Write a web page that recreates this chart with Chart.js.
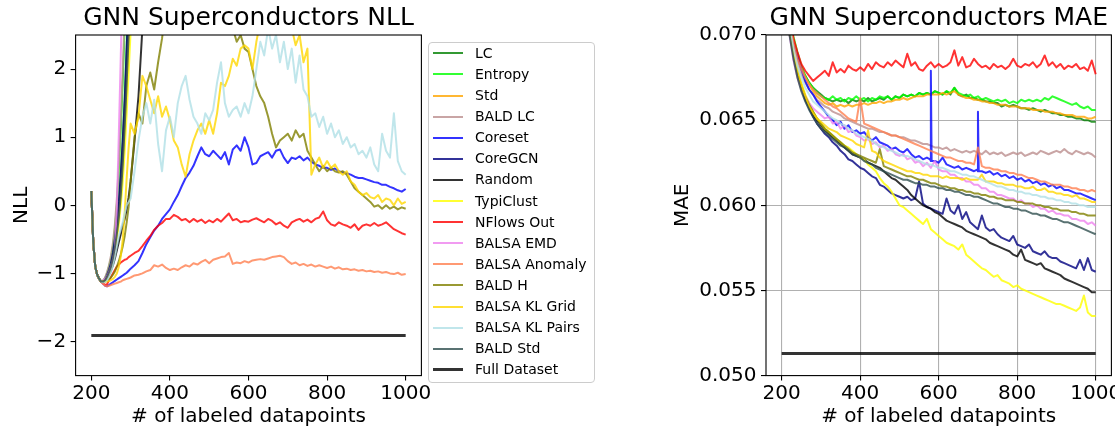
<!DOCTYPE html>
<html><head><meta charset="utf-8">
<script src="https://cdn.jsdelivr.net/npm/chart.js@4"></script>
<style>
html,body{margin:0;padding:0;background:#fff;}
#wrap{position:relative;width:1115px;height:433px;overflow:hidden;background:#fff;}
#c1{position:absolute;left:0;top:0;}
#c2{position:absolute;left:660px;top:0;}
#legend{position:absolute;left:428px;top:42px;width:165px;height:339px;border:1px solid #cccccc;border-radius:4px;background:rgba(255,255,255,0.8);font-family:'DejaVu Sans',sans-serif;font-size:14px;color:#000;}
.row{position:absolute;left:0;height:21px;line-height:21px;white-space:nowrap;width:165px;}
.sw{position:absolute;left:4px;top:9.5px;width:30px;height:2px;}
.lbl{position:absolute;left:46px;top:0;}
</style></head>
<body>
<div id="wrap">
<canvas id="c1" width="440" height="433"></canvas>
<canvas id="c2" width="455" height="433"></canvas>
<div id="legend"></div>
</div>
<script>
// ---------- data ----------
const names = ['LC','Entropy','Std','BALD LC','Coreset','CoreGCN','Random','TypiClust','NFlows Out','BALSA EMD','BALSA Anomaly','BALD H','BALSA KL Grid','BALSA KL Pairs','BALD Std','Full Dataset'];
const colors = ['rgba(0,128,0,0.8)','rgba(0,255,0,0.8)','rgba(255,165,0,0.8)','rgba(188,143,143,0.8)','rgba(0,0,255,0.8)','rgba(0,0,128,0.8)','rgba(0,0,0,0.8)','rgba(255,255,0,0.8)','rgba(255,0,0,0.8)','rgba(238,130,238,0.8)','rgba(255,127,80,0.8)','rgba(128,128,0,0.8)','rgba(255,215,0,0.8)','rgba(176,224,230,0.8)','rgba(47,79,79,0.8)','rgba(0,0,0,0.8)'];

const xTicks = [200,400,600,800,1000];
const nllTicks = [-2,-1,0,1,2];
const maeTicks = [0.050,0.055,0.060,0.065,0.070];

const nllX = [200,205,210,215,220,225,230,235,240,245,250,255,260,265,270,275,280,285,290,295,300,310,320,330,340,350,360,370,380,390,400,410,420,430,440,450,460,470,480,490,500,510,520,530,540,550,560,570,580,590,600,610,620,630,640,650,660,670,680,690,700,710,720,730,740,750,760,770,780,790,800,810,820,830,840,850,860,870,880,890,900,910,920,930,940,950,960,970,980,990,1000];
const fullX = [200,1000];

const nllLC = [0.21,-0.55,-0.9,-1.02,-1.08,-1.12,-1.12,-1.09,-1.03,-0.95,-0.85,-0.7,-0.5,-0.25,0.05,0.45,0.95,1.55,2.3,3.1];
const nllEntropy = [0.21,-0.55,-0.9,-1.02,-1.08,-1.12,-1.11,-1.07,-1.0,-0.9,-0.78,-0.6,-0.35,0.0,0.5,1.1,1.8,2.6,3.4];
const nllStd = [0.21,-0.55,-0.9,-1.02,-1.08,-1.12,-1.12,-1.1,-1.05,-0.98,-0.9,-0.78,-0.62,-0.4,-0.12,0.22,0.65,1.15,1.75,2.4,3.1];
const nllBaldLC = [0.21,-0.55,-0.9,-1.02,-1.08,-1.12,-1.11,-1.06,-0.98,-0.88,-0.74,-0.55,-0.28,0.1,0.6,1.25,2.0,2.8];
const nllCoreset = [0.21,-0.55,-0.9,-1.02,-1.08,-1.12,-1.15,-1.18,-1.19,-1.17,-1.15,-1.13,-1.11,-1.09,-1.07,-1.05,-1.03,-1.01,-0.99,-0.96,
 -0.93,-0.88,-0.82,-0.7,-0.57,-0.47,-0.37,-0.3,-0.2,-0.13,
 -0.06,0.05,0.15,0.28,0.4,0.48,0.58,0.72,0.85,0.75,
 0.72,0.8,0.74,0.68,0.78,0.6,0.82,0.88,0.8,1.0,
 0.85,0.6,0.62,0.72,0.75,0.78,0.7,0.8,0.82,0.7,
 0.62,0.7,0.68,0.72,0.66,0.7,0.64,0.6,0.58,0.55,
 0.55,0.52,0.54,0.5,0.48,0.47,0.45,0.42,0.4,0.4,
 0.38,0.36,0.34,0.33,0.3,0.3,0.27,0.25,0.22,0.2,
 0.24];
const nllCoreGCN = [0.21,-0.55,-0.9,-1.02,-1.08,-1.12,-1.12,-1.09,-1.03,-0.95,-0.85,-0.7,-0.5,-0.25,0.05,0.45,0.95,1.55,2.3,3.1];
const nllRandom = [0.21,-0.55,-0.9,-1.02,-1.08,-1.12,-1.12,-1.1,-1.07,-1.02,-0.96,-0.88,-0.78,-0.66,-0.54,-0.42,-0.3,-0.2,-0.06,0.12,0.35,0.95,1.6,2.6,3.6];
const nllTypiClust = [0.21,-0.55,-0.9,-1.02,-1.08,-1.12,-1.12,-1.1,-1.06,-1.0,-0.92,-0.82,-0.68,-0.5,-0.28,0.0,0.35,0.8,1.35,1.95,2.55,3.6];
const nllNFlows = [0.21,-0.55,-0.9,-1.02,-1.08,-1.12,-1.15,-1.17,-1.16,-1.1,-1.05,-1.0,-0.95,-0.9,-0.87,-0.84,-0.82,-0.8,-0.79,-0.76,
 -0.74,-0.7,-0.67,-0.6,-0.52,-0.45,-0.36,-0.3,-0.26,-0.2,
 -0.2,-0.14,-0.17,-0.22,-0.2,-0.25,-0.2,-0.24,-0.21,-0.26,
 -0.22,-0.25,-0.2,-0.24,-0.18,-0.12,-0.22,-0.2,-0.25,-0.23,
 -0.24,-0.21,-0.19,-0.22,-0.25,-0.2,-0.23,-0.28,-0.25,-0.3,
 -0.33,-0.25,-0.22,-0.2,-0.24,-0.21,-0.25,-0.2,-0.18,-0.09,
 -0.22,-0.28,-0.3,-0.25,-0.28,-0.3,-0.33,-0.28,-0.36,-0.3,
 -0.28,-0.3,-0.26,-0.3,-0.28,-0.25,-0.3,-0.35,-0.38,-0.41,
 -0.43];
const nllEMD = [0.21,-0.55,-0.9,-1.02,-1.08,-1.12,-1.1,-1.08,-1.04,-0.98,-0.9,-0.8,-0.65,-0.05,1.05,2.2,3.4];
const nllAnomaly = [0.21,-0.55,-0.9,-1.02,-1.08,-1.12,-1.15,-1.18,-1.19,-1.18,-1.17,-1.16,-1.15,-1.14,-1.13,-1.12,-1.1,-1.09,-1.08,-1.07,
 -1.06,-1.03,-1.02,-1.0,-0.97,-0.95,-0.88,-0.9,-0.87,-0.92,
 -0.95,-0.93,-0.95,-0.91,-0.88,-0.9,-0.85,-0.87,-0.83,-0.8,
 -0.85,-0.8,-0.78,-0.76,-0.75,-0.7,-0.86,-0.84,-0.85,-0.82,
 -0.84,-0.81,-0.8,-0.79,-0.8,-0.78,-0.76,-0.75,-0.74,-0.76,
 -0.82,-0.86,-0.84,-0.88,-0.86,-0.89,-0.87,-0.9,-0.88,-0.9,
 -0.92,-0.9,-0.93,-0.91,-0.94,-0.93,-0.95,-0.94,-0.96,-0.95,
 -0.97,-0.96,-0.98,-0.97,-0.99,-0.98,-1.0,-1.01,-0.99,-1.02,
 -1.01];
const nllBaldH = [0.21,-0.55,-0.9,-1.02,-1.08,-1.12,-1.12,-1.12,-1.11,-1.09,-1.06,-1.02,-0.97,-0.9,-0.82,-0.72,-0.6,-0.45,-0.25,-0.02,
 0.35,1.0,1.35,1.2,1.75,1.95,1.7,2.1,2.45,2.9,
 3.3,null,null,null,null,null,null,null,null,null,
 null,null,null,null,null,3.0,2.6,2.4,2.5,2.3,
 2.25,2.0,1.75,1.6,1.5,1.3,1.05,0.85,0.95,1.0,
 1.05,0.95,1.1,1.0,1.05,0.8,0.7,0.6,0.5,0.58,
 0.5,0.55,0.5,0.48,0.5,0.45,0.35,0.25,0.2,0.15,
 0.1,0.05,-0.02,0.0,-0.05,0.0,-0.05,-0.02,-0.06,-0.03,
 -0.05];
const nllKLGrid = [0.21,-0.55,-0.9,-1.02,-1.08,-1.12,-1.12,-1.12,-1.12,-1.11,-1.1,-1.08,-1.05,-1.0,-0.9,-0.75,-0.5,-0.1,0.4,0.85,
 1.2,1.05,1.3,1.9,1.75,1.55,1.35,1.6,1.3,1.45,
 1.25,0.95,0.85,0.6,0.42,0.75,0.95,1.1,1.2,1.05,
 1.25,1.05,1.35,1.8,1.75,1.9,2.15,2.05,2.3,2.35,
 2.3,2.0,2.4,2.7,2.9,3.0,2.8,3.0,2.9,3.1,
 2.8,2.6,2.35,2.5,2.1,2.3,0.45,0.6,0.7,0.55,
 0.65,0.55,0.6,0.5,0.45,0.5,0.35,0.3,0.2,0.15,
 0.18,0.12,0.1,0.15,0.05,0.1,0.08,0.0,0.1,0.02,
 0.05];
const nllKLPairs = [0.21,-0.55,-0.9,-1.02,-1.08,-1.12,-1.13,-1.12,-1.1,-1.05,-0.98,-0.88,-0.75,-0.6,-0.45,-0.35,-0.25,-0.12,0.0,0.05,
 0.1,0.5,0.95,1.3,1.5,1.2,1.55,0.9,0.5,1.1,
 1.3,1.0,1.5,1.75,1.9,1.55,1.3,1.2,1.05,1.35,
 1.25,1.4,1.8,2.1,1.5,1.3,1.4,1.45,1.3,1.5,
 1.35,1.6,2.0,2.4,2.2,2.6,2.3,2.5,2.1,2.4,
 2.0,2.3,1.8,2.2,1.7,1.6,1.3,1.35,1.15,1.3,
 1.05,1.2,1.0,1.1,0.9,1.0,0.85,0.9,0.75,0.8,
 0.7,0.85,0.6,0.5,1.05,0.8,0.7,1.35,0.65,0.5,
 0.45];
const nllBaldStd = [0.21,-0.55,-0.9,-1.02,-1.08,-1.12,-1.12,-1.1,-1.05,-0.98,-0.9,-0.78,-0.62,-0.42,-0.18,0.15,0.6,1.15,1.8,2.5,3.2];
const nllFull = [-1.91,-1.91];

const maeX = [200,210,220,230,240,250,260,270,280,290,300,310,320,330,340,350,360,370,380,390,400,410,420,430,440,450,460,470,480,490,500,510,520,530,540,550,560,570,580,590,600,610,620,630,640,650,660,670,680,690,700,710,720,730,740,750,760,770,780,790,800,810,820,830,840,850,860,870,880,890,900,910,920,930,940,950,960,970,980,990,1000];

const maeLC = [0.0760,0.0730,0.0710,0.0697,0.0688,0.0681,0.0676,0.0672,0.0669,0.0667,
 0.0665,0.0663,0.0662,0.0661,0.0662,0.0661,0.0662,0.0660,0.0662,0.0661,
 0.0662,0.0661,0.0663,0.0661,0.0662,0.0663,0.0662,0.0664,0.0662,0.0664,
 0.0663,0.0665,0.0664,0.0665,0.0664,0.0666,0.0665,0.0666,0.0665,0.0667,
 0.0666,0.0665,0.0667,0.0665,0.0669,0.0665,0.0664,0.0665,0.0663,0.0663,
 0.0662,0.0662,0.0661,0.0661,0.0660,0.0660,0.0658,0.0659,0.0658,0.0659,
 0.0658,0.0657,0.0657,0.0656,0.0657,0.0656,0.0655,0.0656,0.0655,0.0654,
 0.0654,0.0653,0.0653,0.0652,0.0652,0.0651,0.0651,0.0650,0.0650,0.0649,
 0.0649];
const maeEntropy = [0.0760,0.0730,0.0711,0.0699,0.0690,0.0682,0.0676,0.0672,0.0669,0.0666,
 0.0664,0.0663,0.0662,0.0664,0.0662,0.0663,0.0661,0.0663,0.0662,0.0664,
 0.0662,0.0663,0.0661,0.0663,0.0662,0.0664,0.0663,0.0664,0.0662,0.0664,
 0.0663,0.0665,0.0664,0.0665,0.0664,0.0666,0.0665,0.0666,0.0665,0.0667,
 0.0666,0.0665,0.0667,0.0666,0.0669,0.0666,0.0665,0.0664,0.0665,0.0663,
 0.0664,0.0662,0.0663,0.0662,0.0661,0.0662,0.0661,0.0662,0.0660,0.0661,
 0.0660,0.0662,0.0661,0.0662,0.0661,0.0662,0.0661,0.0663,0.0662,0.0664,
 0.0663,0.0662,0.0661,0.0660,0.0659,0.0660,0.0658,0.0657,0.0658,0.0656,
 0.0656];
const maeStd = [0.0760,0.0730,0.0710,0.0697,0.0688,0.0681,0.0675,0.0671,0.0667,0.0664,
 0.0662,0.0660,0.0659,0.0660,0.0658,0.0659,0.0658,0.0659,0.0658,0.0659,
 0.0659,0.0660,0.0659,0.0660,0.0660,0.0661,0.0660,0.0661,0.0661,0.0662,
 0.0662,0.0663,0.0662,0.0663,0.0664,0.0664,0.0664,0.0665,0.0665,0.0665,
 0.0665,0.0666,0.0665,0.0666,0.0667,0.0665,0.0664,0.0663,0.0663,0.0662,
 0.0662,0.0661,0.0661,0.0660,0.0660,0.0659,0.0659,0.0659,0.0658,0.0658,
 0.0658,0.0657,0.0657,0.0657,0.0656,0.0656,0.0656,0.0655,0.0655,0.0655,
 0.0654,0.0654,0.0653,0.0653,0.0653,0.0652,0.0652,0.0652,0.0651,0.0651,
 0.0652];
const maeBaldLC = [0.0760,0.0730,0.0708,0.0694,0.0684,0.0677,0.0672,0.0668,0.0665,0.0662,
 0.0660,0.0658,0.0657,0.0655,0.0654,0.0653,0.0651,0.0650,0.0649,0.0648,
 0.0647,0.0646,0.0645,0.0645,0.0644,0.0643,0.0643,0.0642,0.0641,0.0641,
 0.0640,0.0640,0.0639,0.0638,0.0638,0.0637,0.0636,0.0636,0.0635,0.0634,
 0.0634,0.0633,0.0634,0.0632,0.0633,0.0632,0.0631,0.0632,0.0631,0.0632,
 0.0631,0.0630,0.0632,0.0630,0.0631,0.0630,0.0631,0.0629,0.0630,0.0631,
 0.0630,0.0631,0.0629,0.0630,0.0631,0.0630,0.0632,0.0631,0.0630,0.0631,
 0.0632,0.0631,0.0633,0.0631,0.0630,0.0632,0.0631,0.0630,0.0631,0.0630,
 0.0628];
const maeCoreset = [0.0760,0.0728,0.0706,0.0695,0.0688,0.0680,0.0673,0.0668,0.0665,0.0661,
 0.0658,0.0655,0.0652,0.0650,0.0647,0.0649,0.0645,0.0647,0.0643,0.0644,
 0.0642,0.0643,0.0640,0.0638,0.0640,0.0637,0.0636,0.0635,0.0633,0.0634,
 0.0632,0.0631,0.0633,0.0630,0.0628,0.0629,0.0627,0.0628,0.0626,0.0626,
 0.0625,0.0628,0.0624,0.0623,0.0622,0.0623,0.0621,0.0622,0.0621,0.0620,
 0.0620,0.0620,0.0619,0.0620,0.0618,0.0619,0.0617,0.0618,0.0616,0.0617,
 0.0615,0.0616,0.0614,0.0615,0.0613,0.0614,0.0612,0.0613,0.0611,0.0612,
 0.0610,0.0611,0.0609,0.0609,0.0608,0.0607,0.0607,0.0606,0.0605,0.0604,
 0.0603];
const coresetSpikeX = [578,580,582,698,700,702];
const coresetSpikeY = [0.0627,0.0679,0.0626,0.0621,0.0655,0.0620];
const maeCoreGCN = [0.0760,0.0725,0.0702,0.0688,0.0677,0.0669,0.0662,0.0657,0.0652,0.0648,
 0.0645,0.0642,0.0640,0.0637,0.0635,0.0632,0.0630,0.0627,0.0626,0.0624,
 0.0622,0.0621,0.0619,0.0617,0.0616,0.0612,0.0611,0.0609,0.0607,0.0606,
 0.0605,0.0604,0.0605,0.0603,0.0604,0.0614,0.0601,0.0599,0.0598,0.0597,
 0.0596,0.0595,0.0604,0.0597,0.0595,0.0600,0.0592,0.0596,0.0590,0.0588,
 0.0586,0.0594,0.0587,0.0585,0.0586,0.0583,0.0581,0.0580,0.0579,0.0582,
 0.0577,0.0576,0.0575,0.0577,0.0573,0.0572,0.0571,0.0573,0.0570,0.0569,
 0.0569,0.0567,0.0566,0.0565,0.0564,0.0563,0.0568,0.0562,0.0569,0.0562,
 0.0561];
const maeRandom = [0.0760,0.0725,0.0702,0.0688,0.0677,0.0669,0.0663,0.0658,0.0653,0.0650,
 0.0647,0.0644,0.0642,0.0640,0.0638,0.0636,0.0634,0.0632,0.0630,0.0629,
 0.0628,0.0627,0.0625,0.0624,0.0623,0.0622,0.0620,0.0618,0.0616,0.0615,
 0.0613,0.0611,0.0609,0.0606,0.0604,0.0602,0.0600,0.0599,0.0598,0.0596,
 0.0595,0.0593,0.0591,0.0590,0.0589,0.0588,0.0587,0.0585,0.0584,0.0583,
 0.0582,0.0581,0.0580,0.0578,0.0577,0.0576,0.0575,0.0574,0.0573,0.0571,
 0.0570,0.0574,0.0568,0.0567,0.0566,0.0565,0.0566,0.0563,0.0562,0.0561,
 0.0560,0.0559,0.0557,0.0556,0.0555,0.0554,0.0553,0.0552,0.0551,0.0549,
 0.0549];
const maeTypiClust = [0.0760,0.0725,0.0703,0.0690,0.0680,0.0672,0.0665,0.0660,0.0655,0.0651,
 0.0648,0.0645,0.0643,0.0641,0.0639,0.0637,0.0635,0.0634,0.0632,0.0630,
 0.0628,0.0627,0.0624,0.0622,0.0620,0.0616,0.0613,0.0611,0.0608,0.0604,
 0.0600,0.0599,0.0597,0.0595,0.0593,0.0591,0.0589,0.0592,0.0586,0.0584,
 0.0582,0.0580,0.0578,0.0577,0.0576,0.0574,0.0577,0.0571,0.0569,0.0567,
 0.0565,0.0563,0.0562,0.0560,0.0558,0.0559,0.0556,0.0555,0.0554,0.0552,
 0.0553,0.0551,0.0550,0.0549,0.0548,0.0547,0.0546,0.0545,0.0544,0.0543,
 0.0542,0.0542,0.0541,0.0540,0.0539,0.0538,0.0540,0.0547,0.0537,0.0535,
 0.0535];
const maeNFlows = [0.0760,0.0735,0.0712,0.0698,0.0690,0.0683,0.0679,0.0676,0.0673,0.0675,
 0.0677,0.0679,0.0676,0.0684,0.0678,0.0680,0.0678,0.0682,0.0680,0.0679,
 0.0681,0.0679,0.0683,0.0680,0.0684,0.0682,0.0681,0.0684,0.0682,0.0685,
 0.0683,0.0681,0.0689,0.0682,0.0684,0.0680,0.0679,0.0682,0.0684,0.0681,
 0.0683,0.0681,0.0682,0.0684,0.0691,0.0682,0.0687,0.0681,0.0682,0.0686,
 0.0683,0.0681,0.0682,0.0680,0.0683,0.0681,0.0682,0.0680,0.0682,0.0686,
 0.0682,0.0681,0.0683,0.0682,0.0684,0.0681,0.0683,0.0688,0.0682,0.0684,
 0.0681,0.0683,0.0680,0.0682,0.0681,0.0683,0.0680,0.0681,0.0679,0.0685,
 0.0677];
const maeEMD = [0.0760,0.0725,0.0700,0.0685,0.0675,0.0668,0.0664,0.0660,0.0657,0.0655,
 0.0653,0.0651,0.0652,0.0648,0.0649,0.0645,0.0647,0.0643,0.0644,0.0641,
 0.0640,0.0638,0.0639,0.0636,0.0637,0.0634,0.0635,0.0632,0.0633,0.0630,
 0.0629,0.0630,0.0627,0.0628,0.0625,0.0626,0.0623,0.0625,0.0622,0.0626,
 0.0621,0.0620,0.0620,0.0618,0.0618,0.0616,0.0616,0.0614,0.0614,0.0612,
 0.0612,0.0610,0.0610,0.0608,0.0608,0.0606,0.0606,0.0605,0.0604,0.0604,
 0.0602,0.0603,0.0601,0.0601,0.0599,0.0600,0.0598,0.0598,0.0596,0.0597,
 0.0595,0.0595,0.0594,0.0594,0.0592,0.0592,0.0591,0.0591,0.0589,0.0590,
 0.0588];
const maeAnomaly = [0.0760,0.0730,0.0708,0.0695,0.0686,0.0680,0.0675,0.0671,0.0668,0.0666,
 0.0664,0.0662,0.0660,0.0658,0.0657,0.0655,0.0653,0.0651,0.0650,0.0649,
 0.0663,0.0648,0.0647,0.0646,0.0645,0.0644,0.0643,0.0642,0.0641,0.0641,
 0.0640,0.0639,0.0638,0.0637,0.0636,0.0635,0.0634,0.0633,0.0632,0.0631,
 0.0630,0.0629,0.0628,0.0628,0.0627,0.0626,0.0626,0.0625,0.0625,0.0624,
 0.0634,0.0623,0.0622,0.0622,0.0621,0.0621,0.0620,0.0620,0.0619,0.0619,
 0.0618,0.0618,0.0617,0.0616,0.0616,0.0615,0.0614,0.0614,0.0613,0.0612,
 0.0612,0.0612,0.0611,0.0611,0.0610,0.0610,0.0609,0.0609,0.0608,0.0609,
 0.0608];
const maeBaldH = [0.0760,0.0726,0.0703,0.0689,0.0678,0.0670,0.0664,0.0659,0.0655,0.0651,
 0.0648,0.0645,0.0643,0.0641,0.0639,0.0637,0.0635,0.0633,0.0631,0.0630,
 0.0629,0.0628,0.0627,0.0626,0.0625,0.0633,0.0623,0.0622,0.0621,0.0620,
 0.0619,0.0618,0.0617,0.0617,0.0616,0.0615,0.0615,0.0614,0.0613,0.0613,
 0.0612,0.0611,0.0611,0.0610,0.0610,0.0609,0.0609,0.0608,0.0608,0.0607,
 0.0607,0.0606,0.0606,0.0605,0.0605,0.0604,0.0604,0.0603,0.0603,0.0603,
 0.0602,0.0602,0.0601,0.0601,0.0601,0.0600,0.0600,0.0599,0.0599,0.0598,
 0.0598,0.0597,0.0597,0.0597,0.0596,0.0596,0.0595,0.0595,0.0594,0.0594,
 0.0594];
const maeKLGrid = [0.0760,0.0725,0.0703,0.0690,0.0680,0.0671,0.0664,0.0658,0.0654,0.0651,
 0.0649,0.0647,0.0645,0.0644,0.0643,0.0641,0.0640,0.0639,0.0638,0.0636,
 0.0635,0.0634,0.0644,0.0632,0.0631,0.0628,0.0626,0.0625,0.0624,0.0623,
 0.0622,0.0621,0.0620,0.0620,0.0619,0.0619,0.0618,0.0618,0.0617,0.0617,
 0.0617,0.0616,0.0617,0.0616,0.0616,0.0616,0.0615,0.0616,0.0615,0.0615,
 0.0615,0.0618,0.0614,0.0614,0.0614,0.0613,0.0613,0.0612,0.0612,0.0612,
 0.0611,0.0611,0.0610,0.0610,0.0611,0.0609,0.0609,0.0610,0.0608,0.0608,
 0.0607,0.0607,0.0606,0.0606,0.0605,0.0606,0.0604,0.0604,0.0603,0.0602,
 0.0602];
const maeKLPairs = [0.0760,0.0726,0.0705,0.0692,0.0682,0.0675,0.0669,0.0665,0.0661,0.0659,
 0.0657,0.0655,0.0653,0.0651,0.0650,0.0648,0.0647,0.0645,0.0644,0.0642,
 0.0641,0.0640,0.0639,0.0638,0.0636,0.0635,0.0634,0.0633,0.0632,0.0631,
 0.0630,0.0629,0.0629,0.0628,0.0627,0.0626,0.0625,0.0624,0.0624,0.0623,
 0.0622,0.0622,0.0621,0.0620,0.0620,0.0619,0.0618,0.0618,0.0617,0.0617,
 0.0616,0.0615,0.0614,0.0613,0.0612,0.0611,0.0611,0.0610,0.0609,0.0609,
 0.0608,0.0608,0.0607,0.0607,0.0606,0.0606,0.0605,0.0605,0.0604,0.0604,
 0.0603,0.0603,0.0602,0.0602,0.0601,0.0601,0.0600,0.0600,0.0599,0.0599,
 0.0599];
const maeBaldStd = [0.0760,0.0724,0.0700,0.0686,0.0675,0.0667,0.0661,0.0656,0.0652,0.0648,
 0.0645,0.0643,0.0641,0.0639,0.0637,0.0635,0.0634,0.0632,0.0630,0.0629,
 0.0628,0.0626,0.0625,0.0624,0.0622,0.0621,0.0620,0.0619,0.0618,0.0617,
 0.0616,0.0615,0.0615,0.0614,0.0613,0.0613,0.0612,0.0612,0.0611,0.0611,
 0.0610,0.0610,0.0609,0.0609,0.0608,0.0608,0.0607,0.0606,0.0606,0.0605,
 0.0605,0.0604,0.0603,0.0602,0.0601,0.0601,0.0600,0.0599,0.0599,0.0598,
 0.0598,0.0597,0.0597,0.0596,0.0595,0.0595,0.0594,0.0594,0.0593,0.0592,
 0.0592,0.0591,0.0590,0.0590,0.0589,0.0588,0.0587,0.0586,0.0585,0.0584,
 0.0583];
const maeFull = [0.0513,0.0513];

// ---------- build ----------
Chart.defaults.font.family = "'DejaVu Sans', sans-serif";
Chart.defaults.color = '#000';

function pts(xs, ys){ const p=[]; for(let i=0;i<ys.length;i++) p.push({x:xs[i], y:ys[i]}); return p; }

const nllSeries = [
 pts(nllX,nllLC), pts(nllX,nllEntropy), pts(nllX,nllStd), pts(nllX,nllBaldLC), pts(nllX,nllCoreset),
 pts(nllX,nllCoreGCN), pts(nllX,nllRandom), pts(nllX,nllTypiClust), pts(nllX,nllNFlows), pts(nllX,nllEMD),
 pts(nllX,nllAnomaly), pts(nllX,nllBaldH), pts(nllX,nllKLGrid), pts(nllX,nllKLPairs), pts(nllX,nllBaldStd), pts(fullX,nllFull)];
const coresetPts = pts(maeX,maeCoreset).concat(pts(coresetSpikeX,coresetSpikeY)).sort((a,b)=>a.x-b.x);
const maeSeries = [
 pts(maeX,maeLC), pts(maeX,maeEntropy), pts(maeX,maeStd), pts(maeX,maeBaldLC), coresetPts,
 pts(maeX,maeCoreGCN), pts(maeX,maeRandom), pts(maeX,maeTypiClust), pts(maeX,maeNFlows), pts(maeX,maeEMD),
 pts(maeX,maeAnomaly), pts(maeX,maeBaldH), pts(maeX,maeKLGrid), pts(maeX,maeKLPairs), pts(maeX,maeBaldStd), pts(fullX,maeFull)];

function datasets(series){
  return series.map((d,i)=>({
    label: names[i], data: d, borderColor: colors[i], backgroundColor: colors[i],
    borderWidth: i===names.length-1 ? 3 : 2, pointRadius: 0, tension: 0, fill: false,
    spanGaps: false, borderJoinStyle: 'round', order: names.length-1-i, clip: 0
  }));
}

const framePlugin = { id:'frame', afterDraw(chart){
  const {ctx, chartArea:a} = chart; ctx.save(); ctx.strokeStyle='#000'; ctx.lineWidth=1.1;
  ctx.strokeRect(a.left, a.top, a.right-a.left, a.bottom-a.top); ctx.restore(); } };

function xScale(gridOn){
  return { type:'linear', min:160, max:1040,
    afterBuildTicks: s => { s.ticks = xTicks.map(v=>({value:v})); },
    afterFit: s => { s.height = 57.4; s.paddingLeft = 0; s.paddingRight = 0; },
    ticks: { font:{size:20}, color:'#000', padding:1, maxRotation:0, autoSkip:false, callback: v => String(v) },
    grid: { drawOnChartArea:gridOn, color:'#b0b0b0', lineWidth:1.1, tickColor:'#000', tickLength:5, tickWidth:1.1 },
    border: { display:false },
    title: { display:true, text:'# of labeled datapoints', font:{size:20}, color:'#000', padding:{top:0,bottom:4} } };
}
function yScale(gridOn, lo, hi, tickVals, fmt, label, w, tpad){
  return { type:'linear', min:lo, max:hi,
    afterBuildTicks: s => { s.ticks = tickVals.map(v=>({value:v})); },
    afterFit: s => { s.width = w; s.paddingTop = 0; s.paddingBottom = 0; },
    ticks: { font:{size:20}, color:'#000', padding:4.5, autoSkip:false, callback: fmt },
    grid: { drawOnChartArea:gridOn, color:'#b0b0b0', lineWidth:1.1, tickColor:'#000', tickLength:5, tickWidth:1.1 },
    border: { display:false },
    title: { display:true, text:label, font:{size:20}, color:'#000', padding:{top:tpad,bottom:0} } };
}
function titleOpt(t){
  return { display:true, text:t, fullSize:false, color:'#000', font:{size:25, weight:'normal', lineHeight:1}, padding:{top:5.5,bottom:4.5} };
}

new Chart(document.getElementById('c1'), {
  type:'line', data:{ datasets: datasets(nllSeries) },
  options:{ responsive:false, animation:false, devicePixelRatio:1,
    layout:{ padding:{ left:0, top:0, right:18.6, bottom:0 } },
    scales:{ x: xScale(false), y: yScale(false, -2.5, 2.5, nllTicks, v => v<0 ? '\u2212'+Math.abs(v) : String(v), 'NLL', 75.6, 10) },
    plugins:{ legend:{display:false}, tooltip:{enabled:false}, title: titleOpt('GNN Superconductors NLL') } },
  plugins:[framePlugin]
});

new Chart(document.getElementById('c2'), {
  type:'line', data:{ datasets: datasets(maeSeries) },
  options:{ responsive:false, animation:false, devicePixelRatio:1,
    layout:{ padding:{ left:0, top:0, right:3.6, bottom:0 } },
    scales:{ x: xScale(true), y: yScale(true, 0.05, 0.07, maeTicks, v => v.toFixed(3), 'MAE', 106, 11) },
    plugins:{ legend:{display:false}, tooltip:{enabled:false}, title: titleOpt('GNN Superconductors MAE') } },
  plugins:[framePlugin]
});

// legend (HTML, real text)
const leg = document.getElementById('legend');
names.forEach((n,i)=>{
  const r = document.createElement('div'); r.className='row'; r.style.top = (-0.2 + 21.1*i)+'px';
  const s = document.createElement('div'); s.className='sw'; s.style.background = colors[i];
  if (i===names.length-1) { s.style.height='3px'; s.style.top='9px'; }
  const t = document.createElement('span'); t.className='lbl'; t.textContent = n;
  r.appendChild(s); r.appendChild(t); leg.appendChild(r);
});
</script>
</body></html>
